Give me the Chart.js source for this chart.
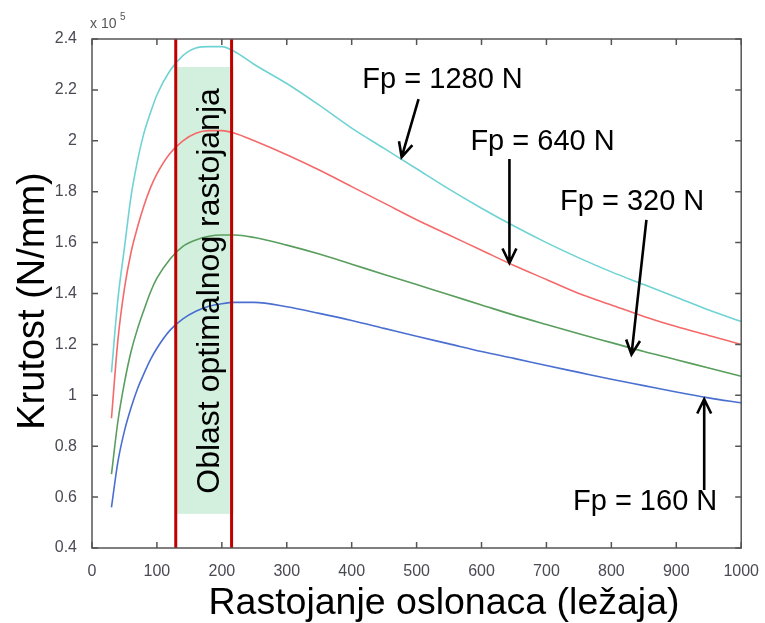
<!DOCTYPE html>
<html lang="sr">
<head>
<meta charset="UTF-8">
<title>Krutost</title>
<script src="https://cdn.jsdelivr.net/npm/chart.js"></script>
<style>
  html, body { margin: 0; padding: 0; background: #fff; }
  #wrap { width: 765px; height: 623px; }
</style>
</head>
<body>
<div id="wrap"><canvas id="grafik" width="765" height="623"></canvas></div>
<script>
// rastojanje oslonaca
const rastojanje = [30, 40, 50, 60, 70, 80, 90, 100, 120, 140, 160, 180, 200, 220, 250,
                    300, 350, 400, 450, 500, 550, 600, 650, 700, 750, 800, 850, 900, 950, 1000];

// krutost (x 10^5 N/mm)
const fp1280 = [1.09, 1.38, 1.58, 1.78, 1.92, 2.03, 2.11, 2.18, 2.275, 2.335, 2.365, 2.37, 2.37, 2.35, 2.30,
                2.225, 2.14, 2.05, 1.97, 1.89, 1.81, 1.735, 1.665, 1.60, 1.54, 1.485, 1.435, 1.385, 1.335, 1.29];
const fp640  = [0.91, 1.22, 1.42, 1.56, 1.66, 1.745, 1.815, 1.87, 1.95, 2.00, 2.03, 2.04, 2.04, 2.03, 2.00,
                1.945, 1.885, 1.82, 1.755, 1.69, 1.63, 1.57, 1.51, 1.455, 1.40, 1.355, 1.31, 1.27, 1.235, 1.20];
const fp320  = [0.69, 0.90, 1.05, 1.17, 1.26, 1.335, 1.405, 1.46, 1.535, 1.585, 1.61, 1.625, 1.63, 1.63, 1.62,
                1.59, 1.555, 1.515, 1.475, 1.435, 1.395, 1.355, 1.315, 1.278, 1.242, 1.207, 1.172, 1.14, 1.107, 1.075];
const fp160  = [0.56, 0.74, 0.86, 0.95, 1.025, 1.085, 1.14, 1.185, 1.255, 1.30, 1.33, 1.35, 1.36, 1.365, 1.365,
                1.348, 1.322, 1.294, 1.263, 1.232, 1.202, 1.172, 1.145, 1.117, 1.09, 1.063, 1.038, 1.013, 0.99, 0.97];

const xTicks = [0, 100, 200, 300, 400, 500, 600, 700, 800, 900, 1000];
const yTicks = [0.4, 0.6, 0.8, 1, 1.2, 1.4, 1.6, 1.8, 2, 2.2, 2.4];

// oblast optimalnog rastojanja
const granice = [129, 215];
const oblast = { x0: 130, x1: 218, y0: 0.534, y1: 2.29 };

// oznake sila: tekst, polozaj teksta, pocetak i vrh strelice (u jedinicama osa)
const oznake = [
  { tekst: 'Fp = 1280 N', tx: 540, ty: 2.24, ax: 503, ay: 2.164, bx: 477, by: 1.936 },
  { tekst: 'Fp = 640 N',  tx: 694, ty: 1.995, ax: 643, ay: 1.928, bx: 643, by: 1.52 },
  { tekst: 'Fp = 320 N',  tx: 832, ty: 1.76, ax: 854, ay: 1.689, bx: 831, by: 1.16 },
  { tekst: 'Fp = 160 N',  tx: 852, ty: 0.581, ax: 943, ay: 0.628, bx: 943, by: 0.985 }
];

function tacke(niz) {
  return rastojanje.map((x, i) => ({ x: x, y: niz[i] }));
}

function linija(label, niz, boja) {
  return {
    label: label,
    data: tacke(niz),
    borderColor: boja,
    borderWidth: 1.6,
    pointRadius: 0,
    fill: false,
    cubicInterpolationMode: 'monotone'
  };
}

function strelica(ctx, x1, y1, x2, y2) {
  const ugao = Math.atan2(y2 - y1, x2 - x1);
  const d = 16;
  ctx.beginPath();
  ctx.moveTo(x1, y1);
  ctx.lineTo(x2, y2);
  ctx.moveTo(x2 - d * Math.cos(ugao - 0.45), y2 - d * Math.sin(ugao - 0.45));
  ctx.lineTo(x2, y2);
  ctx.lineTo(x2 - d * Math.cos(ugao + 0.45), y2 - d * Math.sin(ugao + 0.45));
  ctx.stroke();
}

const dodaci = {
  id: 'dodaci',
  beforeDatasetsDraw(chart) {
    const { ctx, scales: { x, y } } = chart;
    ctx.save();
    ctx.fillStyle = '#d3f0df';
    const l = x.getPixelForValue(oblast.x0), r = x.getPixelForValue(oblast.x1);
    const t = y.getPixelForValue(oblast.y1), b = y.getPixelForValue(oblast.y0);
    ctx.fillRect(l, t, r - l, b - t);
    ctx.restore();
  },
  afterDatasetsDraw(chart) {
    const { ctx, chartArea: a, scales: { x, y } } = chart;
    ctx.save();

    // tekst u oblasti
    ctx.fillStyle = '#000';
    ctx.font = '32px "Liberation Sans", Arial, sans-serif';
    ctx.textAlign = 'center';
    ctx.textBaseline = 'alphabetic';
    ctx.translate(219, y.getPixelForValue(1.41));
    ctx.rotate(-Math.PI / 2);
    ctx.fillText('Oblast optimalnog rastojanja', 0, 0);
    ctx.setTransform(1, 0, 0, 1, 0, 0);

    // crvene granice
    ctx.strokeStyle = '#c00000';
    ctx.lineWidth = 3;
    granice.forEach(g => {
      const px = x.getPixelForValue(g);
      ctx.beginPath();
      ctx.moveTo(px, a.top);
      ctx.lineTo(px, a.bottom);
      ctx.stroke();
    });

    // okvir i crtice
    ctx.strokeStyle = '#555';
    ctx.lineWidth = 1.5;
    ctx.strokeRect(a.left, a.top, a.right - a.left, a.bottom - a.top);
    ctx.beginPath();
    xTicks.forEach(v => {
      const px = x.getPixelForValue(v);
      ctx.moveTo(px, a.bottom); ctx.lineTo(px, a.bottom - 6);
      ctx.moveTo(px, a.top); ctx.lineTo(px, a.top + 6);
    });
    yTicks.forEach(v => {
      const py = y.getPixelForValue(v);
      ctx.moveTo(a.left, py); ctx.lineTo(a.left + 6, py);
      ctx.moveTo(a.right, py); ctx.lineTo(a.right - 6, py);
    });
    ctx.stroke();

    // oznake sila
    ctx.fillStyle = '#000';
    ctx.strokeStyle = '#000';
    ctx.lineWidth = 2.6;
    ctx.font = '29px "Liberation Sans", Arial, sans-serif';
    ctx.textAlign = 'center';
    ctx.textBaseline = 'middle';
    oznake.forEach(o => {
      ctx.fillText(o.tekst, x.getPixelForValue(o.tx), y.getPixelForValue(o.ty));
      strelica(ctx, x.getPixelForValue(o.ax), y.getPixelForValue(o.ay),
                    x.getPixelForValue(o.bx), y.getPixelForValue(o.by));
    });

    // x 10^5
    ctx.fillStyle = '#555';
    ctx.textAlign = 'left';
    ctx.textBaseline = 'alphabetic';
    ctx.font = '14px "Liberation Sans", Arial, sans-serif';
    ctx.fillText('x 10', a.left - 2, a.top - 11);
    ctx.font = '10px "Liberation Sans", Arial, sans-serif';
    ctx.fillText('5', a.left + 28, a.top - 19);

    // naslovi osa
    ctx.fillStyle = '#000';
    ctx.font = '37.5px "Liberation Sans", Arial, sans-serif';
    ctx.textAlign = 'center';
    ctx.fillText('Rastojanje oslonaca (ležaja)', 444, 614);
    ctx.font = '38px "Liberation Sans", Arial, sans-serif';
    ctx.translate(44, 301);
    ctx.rotate(-Math.PI / 2);
    ctx.fillText('Krutost (N/mm)', 0, 0);
    ctx.restore();
  }
};

const tickFont = { family: '"Liberation Sans", Arial, sans-serif', size: 16 };

new Chart(document.getElementById('grafik').getContext('2d'), {
  type: 'line',
  data: {
    datasets: [
      linija('Fp = 1280 N', fp1280, '#6fd3d3'),
      linija('Fp = 640 N', fp640, '#f46a6a'),
      linija('Fp = 320 N', fp320, '#5a9e5e'),
      linija('Fp = 160 N', fp160, '#4a6fd0')
    ]
  },
  options: {
    responsive: false,
    animation: false,
    layout: { padding: { left: 0, top: 39, right: 23, bottom: 0 } },
    plugins: { legend: { display: false }, tooltip: { enabled: false } },
    scales: {
      x: {
        type: 'linear',
        min: 0,
        max: 1000,
        afterBuildTicks: s => { s.ticks = xTicks.map(v => ({ value: v })); },
        afterFit: s => { s.height = 75; },
        grid: { display: false },
        border: { display: false },
        ticks: { color: '#4a4a55', font: tickFont, padding: 6, maxRotation: 0, autoSkip: false,
                 callback: v => String(v) }
      },
      y: {
        type: 'linear',
        min: 0.4,
        max: 2.4,
        afterBuildTicks: s => { s.ticks = yTicks.map(v => ({ value: v })); },
        afterFit: s => { s.width = 92; },
        grid: { display: false },
        border: { display: false },
        ticks: { color: '#4a4a55', font: tickFont, padding: 7, autoSkip: false,
                 callback: v => String(parseFloat(Number(v).toFixed(1))) }
      }
    }
  },
  plugins: [dodaci]
});
</script>
</body>
</html>
